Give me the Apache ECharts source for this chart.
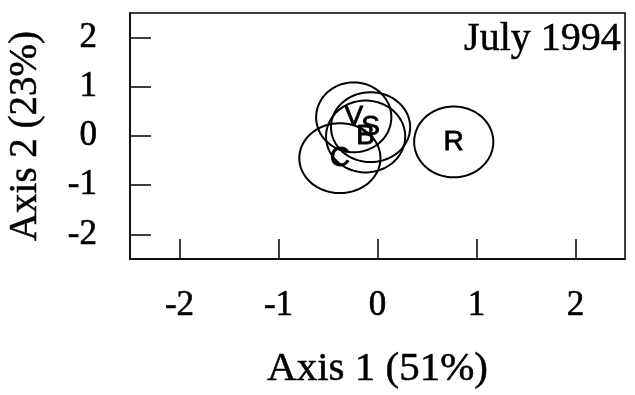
<!DOCTYPE html>
<html><head><meta charset="utf-8">
<script src="https://cdn.jsdelivr.net/npm/echarts@6/dist/echarts.min.js"></script>
<style>html,body{margin:0;padding:0;background:#fff}#c{width:635px;height:395px}</style>
</head><body><div id="c"></div>
<script>
var groups = ['V', 'S', 'B', 'C', 'R'];
var centerX = [-0.24, -0.07, -0.12, -0.38, 0.77];
var centerY = [0.38, 0.18, -0.01, -0.45, -0.12];
var radiusX = [0.38, 0.40, 0.40, 0.41, 0.40];
var radiusY = [0.71, 0.71, 0.73, 0.71, 0.72];
var tickValues = [-2, -1, 0, 1, 2];
var xTitle = 'Axis 1 (51%)';
var yTitle = 'Axis 2 (23%)';
var panelTitle = 'July 1994';

var data = groups.map(function (g, i) { return [centerX[i], centerY[i], radiusX[i], radiusY[i], g]; });
var serif = "'Liberation Serif', 'Times New Roman', serif";

var chart = echarts.init(document.getElementById('c'), null, {renderer: 'canvas'});
chart.setOption({
  animation: false,
  backgroundColor: '#fff',
  grid: {left: 130, right: 10, top: 13, bottom: 136, outerBoundsMode: 'none', containLabel: false,
         show: true, borderColor: '#000', borderWidth: 1.5, backgroundColor: 'transparent'},
  xAxis: {
    type: 'value', min: -2.5, max: 2.5,
    axisLine: {show: true, onZero: false, lineStyle: {color: '#000', width: 1.5}},
    axisTick: {show: true, inside: true, length: 20, customValues: tickValues, lineStyle: {color: '#000', width: 1.5}},
    axisLabel: {customValues: tickValues, color: '#000', fontFamily: serif, fontSize: 35, margin: 29,
                textBorderColor: '#000', textBorderWidth: 0.6},
    splitLine: {show: false},
    name: xTitle, nameLocation: 'middle', nameGap: 90,
    nameTextStyle: {color: '#000', fontFamily: serif, fontSize: 41, textBorderColor: '#000', textBorderWidth: 0.5}
  },
  yAxis: {
    type: 'value', min: -2.5, max: 2.5,
    axisLine: {show: true, onZero: false, lineStyle: {color: '#000', width: 1.5}},
    axisTick: {show: true, inside: true, length: 21, customValues: tickValues, lineStyle: {color: '#000', width: 1.5}},
    axisLabel: {customValues: tickValues, color: '#000', fontFamily: serif, fontSize: 35, margin: 33,
                textBorderColor: '#000', textBorderWidth: 0.6},
    splitLine: {show: false},
    name: yTitle, nameLocation: 'middle', nameGap: 85,
    nameTextStyle: {color: '#000', fontFamily: serif, fontSize: 39, textBorderColor: '#000', textBorderWidth: 0.5}
  },
  graphic: [{
    type: 'text', right: 14, top: 19,
    style: {text: panelTitle, fill: '#000', font: "40px 'Liberation Serif', serif", stroke: '#000', lineWidth: 0.5}
  }],
  series: [{
    type: 'custom',
    data: data,
    encode: {x: 0, y: 1},
    clip: false,
    renderItem: function (params, api) {
      var cx = api.value(0), cy = api.value(1), rx = api.value(2), ry = api.value(3);
      var pts = [];
      for (var k = 0; k < 90; k++) {
        var t = k / 90 * Math.PI * 2;
        pts.push(api.coord([cx + rx * Math.cos(t), cy + ry * Math.sin(t)]));
      }
      var c = api.coord([cx, cy]);
      return {
        type: 'group',
        children: [
          {type: 'polygon', shape: {points: pts}, style: {fill: 'none', stroke: '#000', lineWidth: 2}},
          {type: 'text', x: c[0], y: c[1], style: {text: api.value(4), fill: '#000', stroke: '#000', lineWidth: 0.8,
            font: "28px 'Liberation Sans', Arial, sans-serif", align: 'center', verticalAlign: 'middle'}}
        ]
      };
    }
  }]
});
</script>
</body></html>
